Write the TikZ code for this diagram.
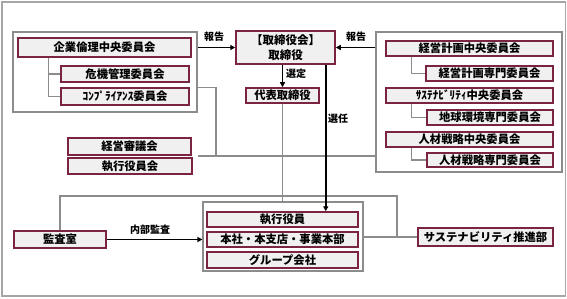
\documentclass[tikz,border=0pt]{standalone}
\usepackage{fontspec}
\setmainfont{Noto Sans CJK JP}
\usetikzlibrary{arrows.meta}
\definecolor{maroon}{HTML}{7A2442}
\definecolor{boxfill}{HTML}{F0F0F0}
\definecolor{lgray}{HTML}{8C8C8C}
\definecolor{fgray}{HTML}{A6A6A6}
\begin{document}
\begin{tikzpicture}[x=1pt,y=-1pt,
  cbox/.style={draw=maroon,fill=boxfill,line width=1.5pt,inner sep=0pt,
    font=\fontsize{11.3}{14}\selectfont\bfseries,align=center},
  grpbox/.style={draw=lgray,line width=1.2pt,fill=white},
  conn/.style={draw=lgray,line width=1.2pt},
  arr/.style={draw=black,line width=1.3pt,-{Triangle[length=5pt,width=5pt]}},
  lbl/.style={font=\fontsize{10}{12}\selectfont\bfseries,inner sep=0pt}]
\useasboundingbox (0,0) rectangle (567,299);
\draw[fgray,line width=1.2pt] (2,2) rectangle (565.5,296);

% group boxes
\node[grpbox,minimum width=184pt,minimum height=80pt,inner sep=0pt] (leftgrp) at (105,72) {};
\node[grpbox,minimum width=186pt,minimum height=140pt,inner sep=0pt] (rightgrp) at (469,102) {};
\node[grpbox,minimum width=160pt,minimum height=69pt,inner sep=0pt] (lowgrp) at (283,236.5) {};

% left group
\node[cbox,minimum width=173pt,minimum height=19pt] (ethics) at (104.5,47.5) {企業倫理中央委員会};
\node[cbox,minimum width=128pt,minimum height=16pt] (crisis) at (125,74) {危機管理委員会};
\node[cbox,minimum width=128pt,minimum height=17pt] (compl) at (125,96.5) {ｺﾝﾌﾟﾗｲｱﾝｽ委員会};
\draw[conn] ([xshift=31pt]ethics.south west) |- (compl.west);
\draw[conn] ([xshift=31pt]ethics.south west |- crisis.west) -- (crisis.west);

% board
\node[cbox,minimum width=99pt,minimum height=33pt,
  font=\fontsize{11.5}{15.5}\selectfont\bfseries] (board) at (285.5,47.5) {【取締役会】\\取締役};
\node[cbox,minimum width=73pt,minimum height=15pt] (rep) at (282.5,95.5) {代表取締役};

% management
\node[cbox,minimum width=123pt,minimum height=17pt] (mgmt) at (129.5,146.5) {経営審議会};
\node[cbox,minimum width=124pt,minimum height=16pt] (execc) at (130,166) {執行役員会};

% right group
\node[cbox,minimum width=167pt,minimum height=15pt] (plan) at (469.5,48.5) {経営計画中央委員会};
\node[cbox,minimum width=127pt,minimum height=15pt] (planspec) at (489.5,73.5) {経営計画専門委員会};
\node[cbox,minimum width=167pt,minimum height=15pt] (sust) at (469.5,95.5) {ｻｽﾃﾅﾋﾞﾘﾃｨ中央委員会};
\node[cbox,minimum width=126pt,minimum height=15pt] (env) at (490,117.5) {地球環境専門委員会};
\node[cbox,minimum width=167pt,minimum height=15pt] (hr) at (469.5,139.5) {人材戦略中央委員会};
\node[cbox,minimum width=126pt,minimum height=14pt] (hrspec) at (490,160) {人材戦略専門委員会};
\draw[conn] ([xshift=26pt]plan.south west) |- (planspec.west);
\draw[conn] ([xshift=26pt]sust.south west) |- (env.west);
\draw[conn] ([xshift=26pt]hr.south west) |- (hrspec.west);

% lower group
\node[cbox,minimum width=151pt,minimum height=15pt] (execoff) at (282.5,219.5) {執行役員};
\node[cbox,minimum width=151pt,minimum height=15pt] (hq) at (282.5,239.5) {本社・本支店・事業本部};
\node[cbox,minimum width=151pt,minimum height=16pt] (grp) at (282.5,260) {グループ会社};

\node[cbox,minimum width=92pt,minimum height=17pt] (audit) at (60,239.5) {監査室};
\node[cbox,minimum width=135pt,minimum height=18pt] (sdept) at (485.5,237) {サステナビリティ推進部};

% connectors
\coordinate (cj) at (216,156);
\coordinate (sj) at (397,196);
\draw[conn] (leftgrp.east |- compl.north) -| (cj);
\draw[conn] (leftgrp.east |- cj) -- (rightgrp.west |- cj);
\draw[conn] (rep.south) -- (rep.south |- lowgrp.north);
\draw[conn] (audit.north) |- (sj) |- (sdept.west);
\draw[conn] (lowgrp.east |- sdept.west) -- (sdept.west);

\draw[arr] (leftgrp.east |- board.west) -- (board.west);
\draw[arr] (rightgrp.west |- board.east) -- (board.east);
\draw[arr] (rep.north |- board.south) -- (rep.north);
\draw[arr,line width=1.8pt] ([xshift=-10pt]board.south east) -- ([xshift=-10pt]board.south east |- execoff.north);
\draw[arr] (audit.east) -- (audit.east -| lowgrp.west);

% labels
\node[lbl] (l1) at (214,37) {報告};
\node[lbl] (l2) at (356,37) {報告};
\node[lbl] (l3) at (296,74) {選定};
\node[lbl] (l4) at (338,119) {選任};
\node[lbl] (l5) at (150,230) {内部監査};
\end{tikzpicture}
\end{document}
